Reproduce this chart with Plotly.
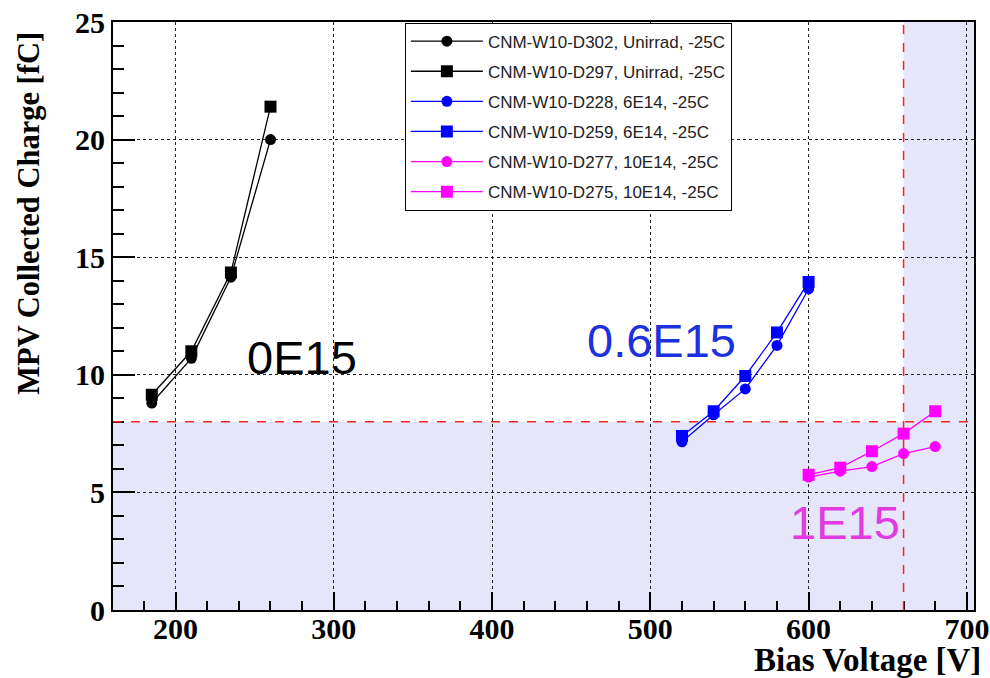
import plotly.graph_objects as go

# ---- data ----
v_unirr = [185, 210, 235, 260]
q_d302 = [8.8, 10.7, 14.15, 20.0]
q_d297 = [9.15, 11.0, 14.35, 21.4]

v_6e14 = [520, 540, 560, 580, 600]
q_d228 = [7.15, 8.3, 9.4, 11.25, 13.65]
q_d259 = [7.4, 8.45, 9.95, 11.8, 13.95]

v_10e14 = [600, 620, 640, 660, 680]
q_d277 = [5.65, 5.9, 6.1, 6.65, 6.95]
q_d275 = [5.75, 6.05, 6.75, 7.5, 8.45]

names = [
    "CNM-W10-D302, Unirrad, -25C",
    "CNM-W10-D297, Unirrad, -25C",
    "CNM-W10-D228, 6E14, -25C",
    "CNM-W10-D259, 6E14, -25C",
    "CNM-W10-D277, 10E14, -25C",
    "CNM-W10-D275, 10E14, -25C",
]

fluence_labels = ["0E15", "0.6E15", "1E15"]
fluence_pos_x = [280, 507, 623]
fluence_pos_y = [10.75, 11.45, 3.7]

charge_threshold = 8
voltage_limit = 660
x_range = [160.5, 704.5]
y_range = [0, 25]

series = [
    (v_unirr, q_d302, "black", "circle", 11),
    (v_unirr, q_d297, "black", "square", 12),
    (v_6e14, q_d228, "blue", "circle", 11),
    (v_6e14, q_d259, "blue", "square", 12),
    (v_10e14, q_d277, "magenta", "circle", 11),
    (v_10e14, q_d275, "magenta", "square", 12),
]

fig = go.Figure()

for i, ((xs, ys, col, sym, sz), nm) in enumerate(zip(series, names)):
    fig.add_trace(go.Scatter(
        x=xs, y=ys, name=nm, mode="lines+markers",
        line=dict(color=col, width=1.3),
        marker=dict(color=col, symbol=sym, size=sz),
        legendgroup=f"g{i}",
    ))

shade = "#e6e6fa"
# shaded regions
fig.add_shape(type="rect", xref="x", yref="y", x0=x_range[0], x1=x_range[1],
              y0=y_range[0], y1=charge_threshold, fillcolor=shade, line_width=0, layer="below")
fig.add_shape(type="rect", xref="x", yref="y", x0=voltage_limit, x1=x_range[1],
              y0=y_range[0], y1=y_range[1], fillcolor=shade, line_width=0, layer="below")
# red dashed limit lines
fig.add_shape(type="line", xref="x", yref="y", x0=x_range[0], x1=x_range[1],
              y0=charge_threshold, y1=charge_threshold,
              line=dict(color="#ff2020", width=1.5, dash="dash"), layer="above")
fig.add_shape(type="line", xref="x", yref="y", x0=voltage_limit, x1=voltage_limit,
              y0=y_range[0], y1=y_range[1],
              line=dict(color="#ff2020", width=1.5, dash="dash"), layer="above")

lab_colors = ["black", "#1c30e0", "#e03ae0"]
for t, x, y, c in zip(fluence_labels, fluence_pos_x, fluence_pos_y, lab_colors):
    fig.add_annotation(x=x, y=y, xref="x", yref="y", text=t, showarrow=False,
                       font=dict(family="Liberation Sans", size=47, color=c))

# axis titles
fig.add_annotation(x=1.01, y=-0.085, xref="paper", yref="paper", text="<b>Bias Voltage [V]</b>",
                   showarrow=False, xanchor="right", yanchor="middle",
                   font=dict(family="Liberation Serif", size=33, color="black"))
fig.add_annotation(x=-0.119, y=0.987, xref="paper", yref="paper", text="<b>MPV Collected Charge [fC]</b>",
                   showarrow=False, xanchor="left", yanchor="top", textangle=-90,
                   font=dict(family="Liberation Serif", size=30.5, color="black"))

tickfont = dict(family="Liberation Serif", size=30, color="black", weight="bold")

fig.update_xaxes(range=x_range, tick0=0, dtick=100, ticks="inside", ticklen=18, tickwidth=1.5,
                 tickcolor="black", showline=True, linecolor="black", linewidth=2, mirror=True,
                 showgrid=True, gridcolor="#222", griddash="dot", gridwidth=1, zeroline=False,
                 tickfont=tickfont, ticklabeloverflow="allow", ticklabelstandoff=-9,
                 minor=dict(dtick=20, ticks="inside", ticklen=9, tickcolor="black", showgrid=False))
fig.update_yaxes(range=y_range, tick0=0, dtick=5, ticks="inside", ticklen=22, tickwidth=1.5,
                 tickcolor="black", showline=True, linecolor="black", linewidth=2, mirror=True,
                 showgrid=True, gridcolor="#222", griddash="dot", gridwidth=1, zeroline=False,
                 tickfont=tickfont, ticklabeloverflow="allow",
                 minor=dict(dtick=1, ticks="inside", ticklen=11, tickcolor="black", showgrid=False))

fig.update_layout(
    width=990, height=678,
    margin=dict(l=113, r=16, t=22, b=68, autoexpand=False),
    paper_bgcolor="white", plot_bgcolor="white",
    showlegend=True,
    legend=dict(x=0.339, y=0.999, xanchor="left", yanchor="top",
                bgcolor="white", bordercolor="black", borderwidth=1,
                font=dict(family="Liberation Sans", size=17, color="#222"),
                itemwidth=72, tracegroupgap=5),
)

fig.write_html("out.html")
